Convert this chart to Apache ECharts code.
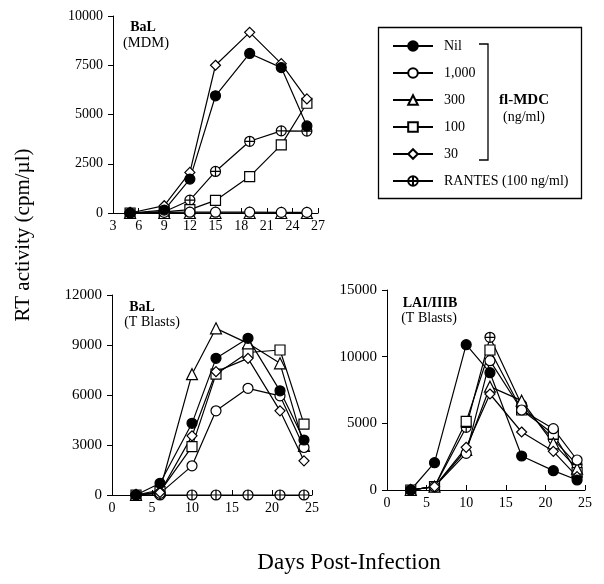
<!DOCTYPE html>
<html>
<head>
<meta charset="utf-8">
<script src="https://cdn.jsdelivr.net/npm/echarts@6/dist/echarts.min.js"></script>
<style>
html,body{margin:0;padding:0;background:#fff;}
#chart{width:604px;height:584px;}
</style>
</head>
<body>
<div id="chart"></div>
<script>
// ---- Data ----
const seriesNames = ['Nil', '1,000', '300', '100', '30', 'RANTES (100 ng/ml)'];

// Panel A: BaL (MDM)
const daysMDM = [5, 9, 12, 15, 19, 22.7, 25.7];
const mdmNil    = [0, 150, 1720, 5950, 8100, 7380, 4420];
const mdm1000   = [0, 30, 40, 40, 40, 30, 30];
const mdm300    = [0, 0, 0, 0, 0, 0, 0];
const mdm100    = [0, 60, 170, 640, 1850, 3460, 5570];
const mdm30     = [0, 370, 2060, 7500, 9170, 7580, 5790];
const mdmRantes = [0, 60, 650, 2110, 3640, 4170, 4160];

// Panel B: BaL (T Blasts)
const daysBaLT = [3, 6, 10, 13, 17, 21, 24];
const baltNil    = [0, 700, 4300, 8200, 9400, 6250, 3300];
const balt1000   = [0, 100, 1750, 5050, 6400, 5950, 2850];
const balt300    = [0, 300, 7250, 10000, 9100, 7900, 2950];
const balt100    = [0, 200, 2900, 7250, 8550, 8700, 4250];
const balt30     = [0, 150, 3550, 7400, 8200, 5050, 2050];
const baltRantes = [0, 0, 0, 0, 0, 0, 0];

// Panel C: LAI/IIIB (T Blasts)
const daysLAI = [3, 6, 10, 13, 17, 21, 24];
const laiNil    = [0, 2050, 10900, 8800, 2550, 1450, 750];
const lai1000   = [0, 250, 2750, 9700, 6000, 4600, 2250];
const lai300    = [0, 250, 3000, 7750, 6700, 3500, 1600];
const lai100    = [0, 250, 5150, 10500, 6000, 4200, 1300];
const lai30     = [0, 250, 3200, 7200, 4350, 2900, 1000];
const laiRantes = [0, 250, 4700, 11450, 6400, 3800, 1900];

// Axis ticks
const mdmX = {min: 3, max: 27, interval: 3};
const mdmY = {min: 0, max: 10000, interval: 2500};
const baltX = {min: 0, max: 25, interval: 5};
const baltY = {min: 0, max: 12000, interval: 3000};
const laiX = {min: 0, max: 25, interval: 5};
const laiY = {min: 0, max: 15000, interval: 5000};

// ---- Styles ----
const FONT = 'Liberation Serif, Times New Roman, serif';
const crossCircle = 'path://M0,-10 A10,10 0 1,1 0,10 A10,10 0 1,1 0,-10 Z M-10,0 L10,0 M0,-10 L0,10';
const symbolDefs = [
  {symbol: 'circle', fill: '#000', size: 10},
  {symbol: 'circle', fill: '#fff', size: 10},
  {symbol: 'triangle', fill: '#fff', size: 11},
  {symbol: 'rect', fill: '#fff', size: 10},
  {symbol: 'diamond', fill: '#fff', size: 10},
  {symbol: crossCircle, fill: '#fff', size: 10}
];

function zip(xs, ys) { return xs.map((x, i) => [x, ys[i]]); }
const plain = v => String(v);

function xAxisDef(grid, t) {
  return {
    type: 'value', gridIndex: grid, min: t.min, max: t.max, interval: t.interval,
    axisLine: {show: true, onZero: false, lineStyle: {color: '#000', width: 1}},
    axisTick: {show: true, inside: true, length: 5, lineStyle: {color: '#000'}},
    axisLabel: {color: '#000', fontFamily: FONT, fontSize: 14, margin: 6, formatter: plain},
    splitLine: {show: false}
  };
}
function yAxisDef(grid, t, fs) {
  return {
    type: 'value', gridIndex: grid, min: t.min, max: t.max, interval: t.interval,
    axisLine: {show: true, lineStyle: {color: '#000', width: 1}},
    axisTick: {show: true, inside: false, length: 5, lineStyle: {color: '#000'}},
    axisLabel: {color: '#000', fontFamily: FONT, fontSize: fs, margin: 10, formatter: plain},
    splitLine: {show: false}
  };
}

const panels = [
  {days: daysMDM, sets: [mdmNil, mdm1000, mdm300, mdm100, mdm30, mdmRantes]},
  {days: daysBaLT, sets: [baltNil, balt1000, balt300, balt100, balt30, baltRantes]},
  {days: daysLAI, sets: [laiNil, lai1000, lai300, lai100, lai30, laiRantes]}
];

const series = [];
panels.forEach((p, pi) => {
  const order = [5, 3, 2, 1, 4, 0];
  order.forEach(si => {
    const s = symbolDefs[si];
    series.push({
      type: 'line', name: seriesNames[si],
      xAxisIndex: pi, yAxisIndex: pi,
      data: zip(p.days, p.sets[si]),
      symbol: s.symbol, symbolSize: s.size, showAllSymbol: true,
      lineStyle: {color: '#000', width: 1.2},
      itemStyle: {color: s.fill, borderColor: '#000', borderWidth: 1.2, opacity: 1},
      emphasis: {disabled: true},
      animation: false
    });
  });
});

const chart = echarts.init(document.getElementById('chart'), null, {renderer: 'canvas'});
chart.setOption({
  backgroundColor: '#fff',
  animation: false,
  grid: [
    {left: 113, top: 16, width: 205, height: 197},
    {left: 112, top: 295, width: 200, height: 200},
    {left: 387, top: 290, width: 198, height: 200}
  ],
  xAxis: [xAxisDef(0, mdmX), xAxisDef(1, baltX), xAxisDef(2, laiX)],
  yAxis: [yAxisDef(0, mdmY, 14), yAxisDef(1, baltY, 15), yAxisDef(2, laiY, 15)],
  legend: {
    show: true, orient: 'vertical', left: 392, top: 39, padding: 0,
    itemWidth: 40, itemHeight: 12, itemGap: 13, selectedMode: false,
    data: seriesNames,
    textStyle: {color: '#000', fontFamily: FONT, fontSize: 14, padding: [0, 0, 0, 6]}
  },
  graphic: [
    {type: 'rect', shape: {x: 378.5, y: 27.5, width: 203, height: 171}, style: {fill: 'none', stroke: '#000', lineWidth: 1.3}},
    {type: 'polyline', shape: {points: [[479, 44], [488, 44], [488, 160], [479, 160]]}, style: {fill: 'none', stroke: '#000', lineWidth: 1.3}},
    {type: 'text', x: 524, y: 100, style: {text: 'fl-MDC', font: 'bold 15px ' + FONT, fill: '#000', textAlign: 'center', textVerticalAlign: 'middle'}},
    {type: 'text', x: 524, y: 117, style: {text: '(ng/ml)', font: '14px ' + FONT, fill: '#000', textAlign: 'center', textVerticalAlign: 'middle'}},
    {type: 'text', x: 143, y: 27, style: {text: 'BaL', font: 'bold 14px ' + FONT, fill: '#000', textAlign: 'center', textVerticalAlign: 'middle'}},
    {type: 'text', x: 146, y: 43, style: {text: '(MDM)', font: '14.5px ' + FONT, fill: '#000', textAlign: 'center', textVerticalAlign: 'middle'}},
    {type: 'text', x: 142, y: 307, style: {text: 'BaL', font: 'bold 14px ' + FONT, fill: '#000', textAlign: 'center', textVerticalAlign: 'middle'}},
    {type: 'text', x: 152, y: 322, style: {text: '(T Blasts)', font: '14px ' + FONT, fill: '#000', textAlign: 'center', textVerticalAlign: 'middle'}},
    {type: 'text', x: 430, y: 303, style: {text: 'LAI/IIIB', font: 'bold 14px ' + FONT, fill: '#000', textAlign: 'center', textVerticalAlign: 'middle'}},
    {type: 'text', x: 429, y: 318, style: {text: '(T Blasts)', font: '14px ' + FONT, fill: '#000', textAlign: 'center', textVerticalAlign: 'middle'}},
    {type: 'text', x: 349, y: 563, style: {text: 'Days Post-Infection', font: '23px ' + FONT, fill: '#000', textAlign: 'center', textVerticalAlign: 'middle'}},
    {type: 'text', x: 23, y: 235, rotation: Math.PI / 2, style: {text: 'RT activity (cpm/µl)', font: '21px ' + FONT, fill: '#000', textAlign: 'center', textVerticalAlign: 'middle'}}
  ],
  series: series
});
</script>
</body>
</html>
